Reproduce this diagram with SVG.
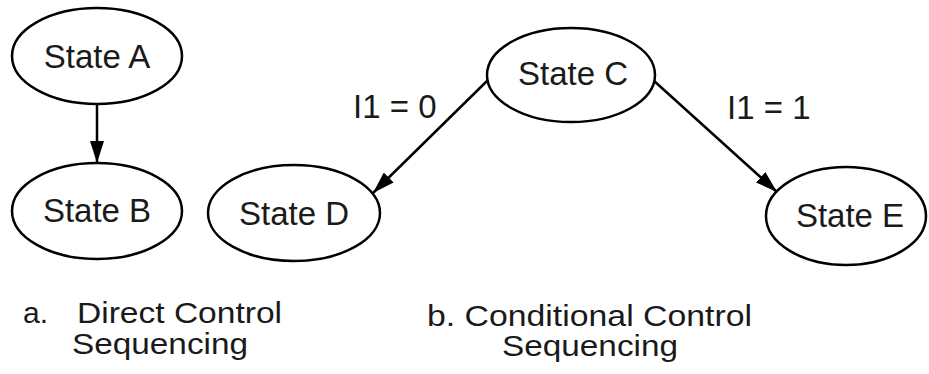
<svg xmlns="http://www.w3.org/2000/svg" width="929" height="374" viewBox="0 0 929 374">
<style>
  .node ellipse { fill: #ffffff; stroke: #000000; stroke-width: 2.5; }
  .lbl { font-family: "Liberation Sans", Arial, sans-serif; font-size: 33px; fill: #1a1a1a; }
  .cap { font-family: "Liberation Sans", Arial, sans-serif; font-size: 30px; fill: #1a1a1a; }
  .mid { text-anchor: middle; }
  .edge { stroke: #000000; stroke-width: 2.5; fill: none; marker-end: url(#arrow); }
</style>
<defs>
  <marker id="arrow" markerUnits="userSpaceOnUse" markerWidth="22" markerHeight="14" refX="22" refY="7" orient="auto">
    <path d="M0,0 L22,7 L0,14 z" fill="#000000"/>
  </marker>
</defs>
<rect width="929" height="374" fill="#ffffff"/>
<g id="connectors">
  <line class="edge" x1="97" y1="104" x2="97" y2="163"/>
  <line class="edge" x1="488" y1="80" x2="373" y2="193"/>
  <line class="edge" x1="653" y1="80" x2="777" y2="192"/>
  <text class="lbl" x="353" y="118">I1 = 0</text>
  <text class="lbl" x="727" y="119">I1 = 1</text>
</g>
<g id="stateA" class="node">
  <ellipse cx="97" cy="56" rx="85" ry="48"/>
  <text class="lbl mid" x="97" y="68">State A</text>
</g>
<g id="stateB" class="node">
  <ellipse cx="97" cy="211" rx="85" ry="48"/>
  <text class="lbl mid" x="97" y="222">State B</text>
</g>
<g id="stateC" class="node">
  <ellipse cx="571" cy="75" rx="84" ry="47"/>
  <text class="lbl mid" x="573" y="85">State C</text>
</g>
<g id="stateD" class="node">
  <ellipse cx="294" cy="213" rx="86" ry="48"/>
  <text class="lbl mid" x="294" y="225">State D</text>
</g>
<g id="stateE" class="node">
  <ellipse cx="846" cy="216" rx="80" ry="49"/>
  <text class="lbl mid" x="850" y="227">State E</text>
</g>
<g id="captions">
  <text class="cap" x="23" y="323">a.</text>
  <text class="cap" x="77" y="323" textLength="205" lengthAdjust="spacingAndGlyphs">Direct Control</text>
  <text class="cap" x="72" y="354" textLength="176" lengthAdjust="spacingAndGlyphs">Sequencing</text>
  <text class="cap" x="427" y="326" textLength="325" lengthAdjust="spacingAndGlyphs">b. Conditional Control</text>
  <text class="cap" x="502" y="356" textLength="176" lengthAdjust="spacingAndGlyphs">Sequencing</text>
</g>
</svg>
